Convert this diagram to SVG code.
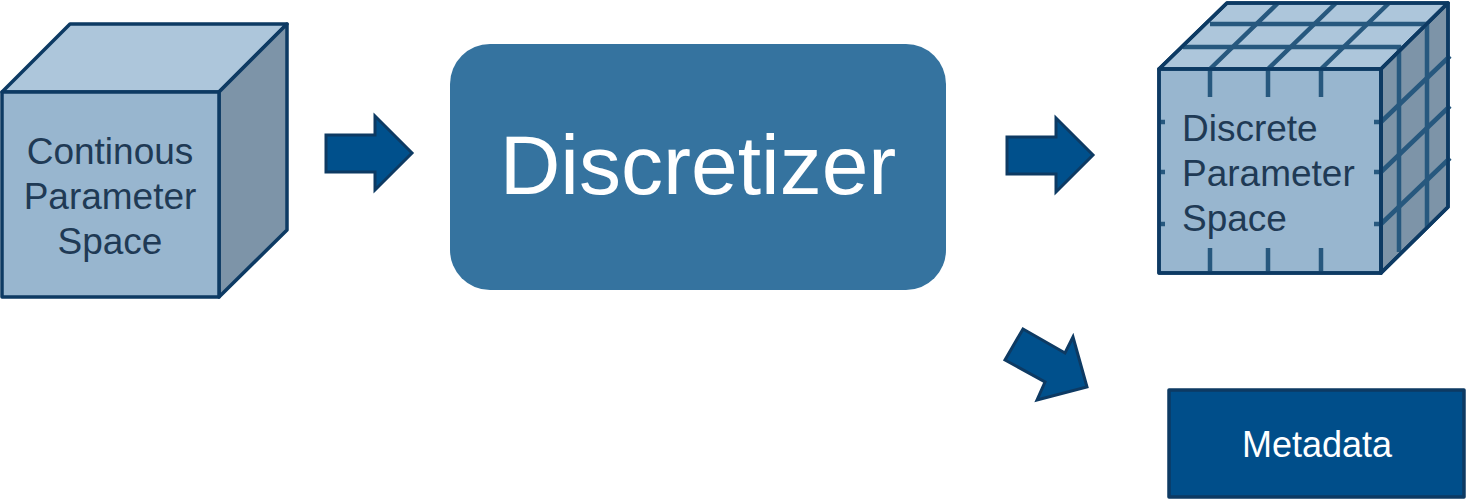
<svg xmlns="http://www.w3.org/2000/svg" width="1466" height="500" viewBox="0 0 1466 500">
<style>
.edge{stroke:#0d3a63;stroke-width:3.5;stroke-linejoin:round}
.front{fill:#98b6cf}
.top{fill:#adc6db}
.side{fill:#7d94a8}
.grid{stroke:#27587e;stroke-width:4.5;fill:none}
.lbl{font-family:"Liberation Sans",Arial,sans-serif;font-size:37px;fill:#1f3a55}
.arrow{fill:#00508c;stroke:#0d3a63;stroke-width:3;stroke-linejoin:miter}
.wt{font-family:"Liberation Sans",Arial,sans-serif;fill:#ffffff;text-anchor:middle}
</style>
<rect width="1466" height="500" fill="#ffffff"/>
<g id="continuous-space">
<polygon class="top edge" points="2,92 70,24 287,24 219,92"/>
<polygon class="side edge" points="219,92 287,24 287,230 219,297"/>
<rect class="front edge" x="2" y="92" width="217" height="205"/>
<text class="lbl" x="110" y="164" text-anchor="middle">Continous</text>
<text class="lbl" x="110" y="209" text-anchor="middle">Parameter</text>
<text class="lbl" x="110" y="254" text-anchor="middle">Space</text>
</g>
<g id="discretizer">
<rect x="450" y="44" width="496" height="246" rx="40" ry="40" fill="#35739f"/>
<text class="wt" x="698" y="194" font-size="84">Discretizer</text>
</g>
<g id="discrete-space">
<polygon class="top edge" points="1159,69 1227,3 1448,3 1381,69"/>
<polygon class="side edge" points="1381,69 1448,3 1448,207 1381,273"/>
<rect class="front edge" x="1159" y="69" width="222" height="204"/>
<g class="grid">
<path d="M1183,47 H1399 V252 M1210,24 H1427 V227"/>
<path d="M1210,69 L1278,3 M1268,69 L1336,3 M1321,69 L1389,3"/>
<path d="M1381,122 L1450,56 M1381,172 L1450,106 M1381,224 L1450,158"/>
<path d="M1210,69 V97 M1268,69 V97 M1321,69 V97 M1210,248 V273 M1268,248 V273 M1321,248 V273"/>
<path d="M1159,122 H1165 M1159,172 H1165 M1159,224 H1165 M1374,122 H1381 M1374,172 H1381 M1374,224 H1381"/>
</g>
<rect x="1159" y="69" width="222" height="204" fill="none" class="edge"/>
<polygon points="1381,69 1448,3 1448,207 1381,273" fill="none" class="edge"/>
<polyline points="1159,69 1227,3 1448,3" fill="none" class="edge"/>
<text class="lbl" x="1182" y="141">Discrete</text>
<text class="lbl" x="1182" y="186">Parameter</text>
<text class="lbl" x="1182" y="231">Space</text>
</g>
<g id="metadata">
<rect x="1169" y="390" width="295" height="107" fill="#004e8a" class="edge"/>
<text class="wt" x="1317" y="457" font-size="36">Metadata</text>
</g>
<g id="connectors">
<polygon class="arrow" points="326,135 375,135 375,116 412,153 375,190 375,172 326,172"/>
<polygon class="arrow" points="1007,137 1056,137 1056,118 1093,155 1056,192 1056,174 1007,174"/>
<polygon class="arrow" points="1023,329 1065,353 1073,337 1087,387 1037,400 1045,382 1005,360"/>
</g>
</svg>
